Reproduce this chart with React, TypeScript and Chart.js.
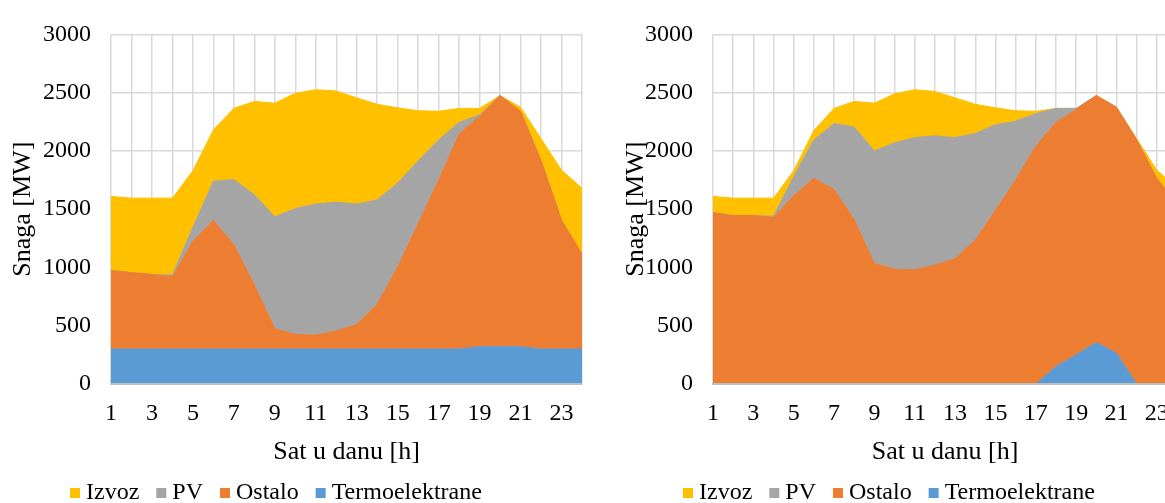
import React, { useEffect, useRef } from "react";
import { Chart, registerables } from "chart.js";

Chart.register(...registerables);

// Hours of the day (x-axis categories)
const hours = ["1", "2", "3", "4", "5", "6", "7", "8", "9", "10", "11", "12", "13", "14", "15", "16", "17", "18", "19", "20", "21", "22", "23", "24"];

const yTicks = [0, 500, 1000, 1500, 2000, 2500, 3000];

// Left chart (scenario A)
const termoA = [300, 300, 300, 300, 300, 300, 300, 300, 300, 300, 300, 300, 300, 300, 300, 300, 300, 300, 320, 320, 320, 300, 300, 300];
const ostaloA = [675, 655, 640, 620, 925, 1105, 895, 550, 175, 125, 120, 155, 210, 385, 705, 1075, 1450, 1845, 1980, 2155, 2020, 1615, 1105, 815];
const pvA = [0, 0, 0, 15, 120, 335, 560, 775, 960, 1080, 1125, 1105, 1035, 895, 720, 540, 345, 100, 10, 0, 0, 0, 0, 0];
const izvozA = [635, 640, 655, 660, 485, 440, 610, 800, 975, 990, 980, 955, 910, 820, 645, 430, 245, 120, 55, 0, 35, 190, 430, 565];

// Right chart (scenario B)
const termoB = [0, 0, 0, 0, 0, 0, 0, 0, 0, 0, 0, 0, 0, 0, 0, 0, 0, 150, 250, 355, 265, 0, 0, 0];
const ostaloB = [1470, 1445, 1445, 1430, 1615, 1765, 1670, 1410, 1035, 985, 980, 1020, 1075, 1235, 1490, 1750, 2040, 2095, 2105, 2120, 2110, 2095, 1765, 1540];
const pvB = [0, 0, 0, 10, 165, 330, 565, 795, 965, 1085, 1135, 1110, 1040, 915, 735, 505, 280, 120, 10, 0, 0, 0, 0, 0];
const izvozB = [140, 150, 150, 155, 50, 80, 130, 220, 410, 420, 410, 380, 340, 250, 145, 90, 20, 0, 0, 0, 0, 10, 70, 140];

const seriesNames = ["Termoelektrane", "Ostalo", "PV", "Izvoz"];
const seriesColors = ["#5B9BD5", "#ED7D31", "#A5A5A5", "#FFC000"];

const xTitle = "Sat u danu [h]";
const yTitle = "Snaga [MW]";

const FONT = '"Liberation Serif", "Times New Roman", serif';

function legendPlugin(x0: number, yc: number) {
  return {
    id: "customLegend",
    afterDraw(chart: any) {
      const ctx = chart.ctx;
      ctx.save();
      ctx.font = `24px ${FONT}`;
      ctx.textBaseline = "middle";
      ctx.textAlign = "left";
      let x = x0;
      const items = [...chart.data.datasets].reverse();
      for (const ds of items) {
        ctx.fillStyle = ds.backgroundColor;
        ctx.fillRect(x, yc - 5, 10, 10);
        x += 16;
        ctx.fillStyle = "#000";
        ctx.fillText(ds.label, x, yc);
        x += ctx.measureText(ds.label).width + 17;
      }
      ctx.restore();
    },
  };
}

type Props = {
  left: number;
  width: number;
  series: number[][];
  legendX: number;
  yTitlePad: number;
};

function AreaChart({ left, width, series, legendX, yTitlePad }: Props) {
  const ref = useRef<HTMLCanvasElement | null>(null);
  useEffect(() => {
    if (!ref.current) return;
    const datasets = series.map((vals, i) => ({
      label: seriesNames[i],
      data: vals,
      backgroundColor: seriesColors[i],
      borderColor: seriesColors[i],
      borderWidth: 1,
      pointRadius: 0,
      tension: 0,
      fill: i === 0 ? "origin" : "-1",
    }));
    const chart = new Chart(ref.current, {
      type: "line",
      data: { labels: hours, datasets },
      options: {
        responsive: false,
        animation: false,
        devicePixelRatio: 1,
        layout: { padding: { left: 0, right: 18, top: 24, bottom: 35 } },
        plugins: {
          legend: { display: false },
          tooltip: { enabled: false },
        },
        scales: {
          x: {
            type: "category",
            offset: false,
            grid: { color: "#D9D9D9", lineWidth: 1.5, drawTicks: false, offset: false },
            border: { display: true, color: "#BFBFBF", width: 2, z: 1 },
            ticks: {
              autoSkip: false,
              maxRotation: 0,
              padding: 15,
              color: "#000",
              font: { family: FONT, size: 24 },
              callback: function (this: any, value: any, index: number) {
                return index % 2 === 0 ? this.getLabelForValue(value) : "";
              },
            },
            title: {
              display: true,
              text: xTitle,
              color: "#000",
              font: { family: FONT, size: 26 },
              padding: { top: 0, bottom: 0 },
            },
            afterFit: (axis: any) => {
              axis.height = 84;
            },
          },
          y: {
            stacked: true,
            min: yTicks[0],
            max: yTicks[yTicks.length - 1],
            grid: { color: "#D9D9D9", lineWidth: 1.5, drawTicks: false },
            border: { display: false },
            ticks: {
              stepSize: yTicks[1] - yTicks[0],
              padding: 20,
              color: "#000",
              font: { family: FONT, size: 24 },
              callback: (value: any) => String(value),
            },
            title: {
              display: true,
              text: yTitle,
              color: "#000",
              font: { family: FONT, size: 26 },
              padding: { top: yTitlePad, bottom: 0 },
            },
            afterFit: (axis: any) => {
              axis.width = 111;
            },
          },
        },
      },
      plugins: [legendPlugin(legendX, 493)],
    } as any);
    return () => chart.destroy();
  }, []);
  return (
    <canvas
      ref={ref}
      width={width}
      height={503}
      style={{ position: "absolute", left, top: 0, width, height: 503 }}
    />
  );
}

export default function App() {
  return (
    <div
      style={{
        position: "fixed",
        left: 0,
        top: 0,
        width: 1165,
        height: 503,
        overflow: "hidden",
        background: "#fff",
      }}
    >
      <AreaChart left={0} width={600} series={[termoA, ostaloA, pvA, izvozA]} legendX={70} yTitlePad={8} />
      <AreaChart left={602} width={593} series={[termoB, ostaloB, pvB, izvozB]} legendX={81} yTitlePad={19} />
    </div>
  );
}
